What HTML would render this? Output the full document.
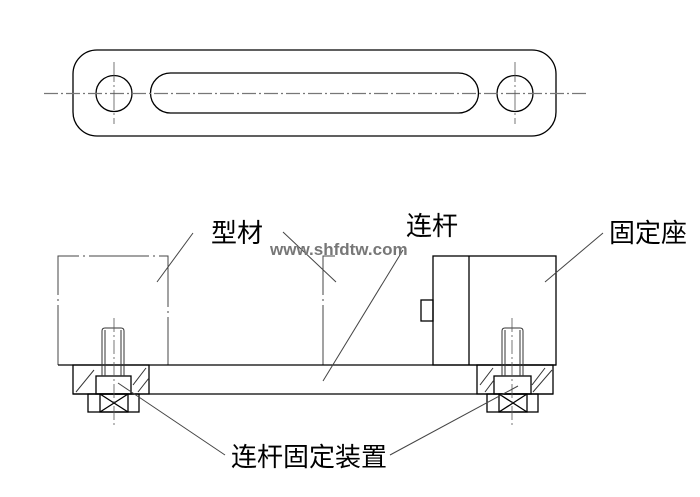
<!DOCTYPE html>
<html><head><meta charset="utf-8"><style>
html,body{margin:0;padding:0;background:#fff;}
svg{display:block}
</style></head><body>
<svg width="700" height="497" viewBox="0 0 700 497" xmlns="http://www.w3.org/2000/svg">
<g fill="none" stroke="#000" stroke-width="1.3">
  <!-- top view -->
  <rect x="73" y="50" width="483" height="86" rx="24" ry="24"/>
  <rect x="150.5" y="73" width="328" height="40" rx="20" ry="20"/>
  <circle cx="114" cy="93.5" r="18"/>
  <circle cx="515" cy="93.5" r="18"/>
</g>
<g stroke="#777" stroke-width="1.2" fill="none" stroke-dasharray="14,3,2,3">
  <line x1="44" y1="93.5" x2="586" y2="93.5"/>
</g>
<g stroke="#555" stroke-width="0.8" stroke-dasharray="20,3,2,3">
  <line x1="114" y1="62" x2="114" y2="124"/>
  <line x1="515" y1="62" x2="515" y2="124"/>
</g>
<!-- profile boxes (light dashed) -->
<g fill="none" stroke="#444" stroke-width="1" stroke-dasharray="60,4,2,4">
  <path d="M58 365 V256 H168 V365"/>
  <path d="M323 365 V256 H335"/>
</g>
<g fill="none" stroke="#000" stroke-width="1.3">
  <!-- base plate -->
  <line x1="58" y1="365" x2="556" y2="365"/>
  <line x1="73" y1="394" x2="553" y2="394"/>
  <!-- fixed block -->
  <rect x="433" y="256" width="123" height="109"/>
  <line x1="469" y1="256" x2="469" y2="365"/>
  <rect x="421" y="300" width="12" height="21"/>
  <!-- left fixture -->
  <rect x="73" y="365" width="76" height="29"/>
  <rect x="96" y="376" width="35" height="18"/>
  <rect x="88" y="394" width="51" height="18"/>
  <rect x="100" y="394" width="28" height="18"/>
  <line x1="100" y1="394" x2="128" y2="412"/>
  <line x1="128" y1="394" x2="100" y2="412"/>
  <!-- right fixture -->
  <rect x="477" y="365" width="76" height="29"/>
  <rect x="494" y="376" width="37" height="18"/>
  <rect x="487" y="394" width="51" height="18"/>
  <rect x="499" y="394" width="28" height="18"/>
  <line x1="499" y1="394" x2="527" y2="412"/>
  <line x1="527" y1="394" x2="499" y2="412"/>
</g>
<g fill="none" stroke="#333" stroke-width="1">
  <!-- bolts -->
  <path d="M102 376 V331 Q102 328 105 328 H121 Q124 328 124 331 V376"/>
  <line x1="105" y1="330" x2="105" y2="376"/><line x1="121" y1="330" x2="121" y2="376"/>
  <path d="M502 376 V331 Q502 328 505 328 H520 Q523 328 523 331 V376"/>
  <line x1="505" y1="330" x2="505" y2="376"/><line x1="520" y1="330" x2="520" y2="376"/>
  <!-- hatching -->
  <line x1="76" y1="392" x2="94" y2="370"/>
  <line x1="133" y1="385" x2="146" y2="368"/>
  <line x1="138" y1="392" x2="149" y2="378"/>
  <line x1="480" y1="385" x2="493" y2="368"/>
  <line x1="485" y1="392" x2="494" y2="380"/>
  <line x1="532" y1="385" x2="545" y2="368"/>
  <line x1="533" y1="392" x2="552" y2="370"/>
</g>
<g stroke="#555" stroke-width="0.8" stroke-dasharray="14,3,2,3">
  <line x1="114" y1="318" x2="114" y2="425"/>
  <line x1="512" y1="318" x2="512" y2="425"/>
</g>
<!-- leaders -->
<g stroke="#444" stroke-width="1">
  <line x1="193" y1="233" x2="157" y2="282"/>
  <line x1="283" y1="232" x2="336" y2="282"/>
  <line x1="403" y1="250" x2="323" y2="381"/>
  <line x1="603" y1="233" x2="545" y2="282"/>
  <line x1="118" y1="383" x2="225" y2="455"/>
  <line x1="518" y1="386" x2="390" y2="455"/>
</g>
<g font-family="'Liberation Sans','Noto Sans CJK SC',sans-serif" font-size="26" fill="#000">
  <text x="211" y="242">型材</text>
  <text x="406" y="235">连杆</text>
  <text x="609" y="242">固定座</text>
  <text x="231" y="466">连杆固定装置</text>
</g>
<text x="270" y="255" font-family="'Liberation Sans',sans-serif" font-size="17" font-weight="bold" fill="#777">www.shfdtw.com</text>
</svg>
</body></html>
